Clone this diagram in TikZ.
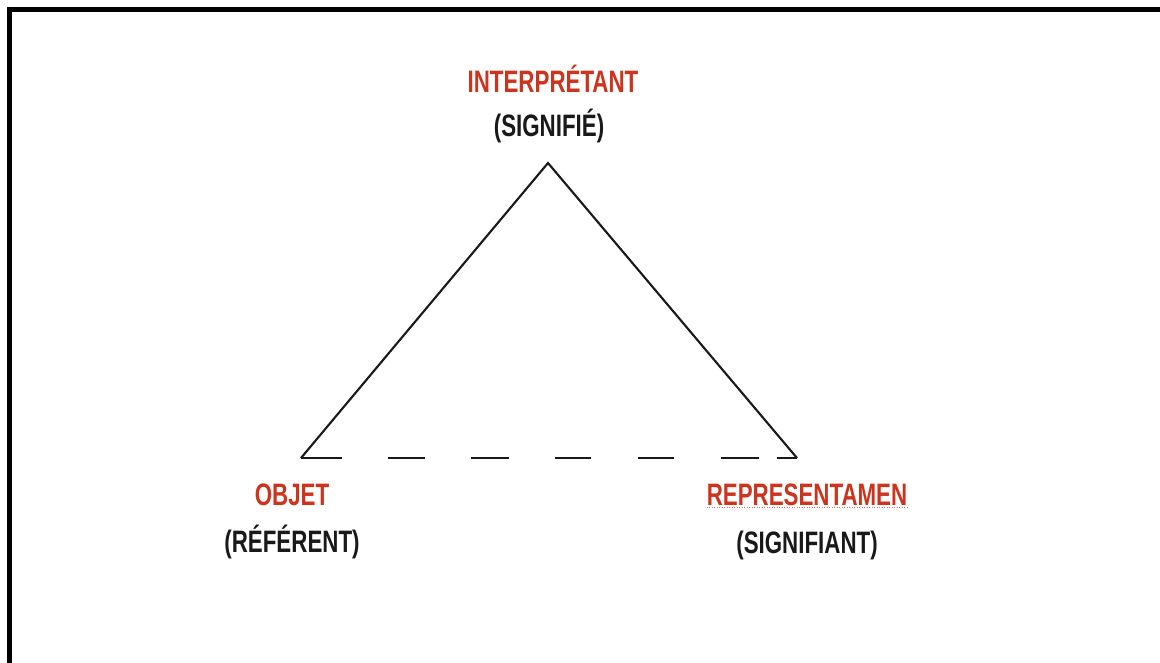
\documentclass[tikz,border=0pt]{standalone}
\usepackage{fontspec}
\setmainfont{Liberation Sans}[FakeStretch=0.72]
\definecolor{labred}{RGB}{205,52,30}
\definecolor{labblack}{RGB}{25,25,25}
\begin{document}
\begin{tikzpicture}[x=1pt,y=-1pt,
  lab/.style={anchor=base,inner sep=0pt,font=\fontsize{31}{37}\selectfont\bfseries},
  redlab/.style={lab,text=labred},
  blacklab/.style={lab,text=labblack},
  edge/.style={line width=2.1pt,draw=black!90}]
\useasboundingbox (0,0) rectangle (1160,663);
\fill[white] (0,0) rectangle (1160,663);
% frame
\draw[line width=5pt,miter limit=10] (9.8,670) -- (9.8,9.8) -- (1170,9.8);
% vertices
\coordinate (I) at (548,163);
\coordinate (O) at (301,458);
\coordinate (R) at (797,458);
\draw[edge,line join=miter] (O) -- (I) -- (R);
\draw[edge,dash pattern=on 41pt off 46pt on 37pt off 46pt on 38pt off 46pt on 36pt off 47pt on 36pt off 46.5pt on 38pt off 18.5pt on 21pt off 10pt] (O) -- (R);
% labels
\node[redlab] (interp) at (553,93) {INTERPRÉTANT};
\node[blacklab] (signifie) at (549,137) {(SIGNIFIÉ)};
\node[redlab] (objet) at (292,505) {OBJET};
\node[blacklab] (referent) at (292,552) {(RÉFÉRENT)};
\node[redlab] (repr) at (807,505) {REPRESENTAMEN};
\node[blacklab] (signifiant) at (807,553) {(SIGNIFIANT)};
\draw[labred!70,line width=1pt,dash pattern=on 1pt off 1.5pt] ([yshift=-2.5pt]repr.base west) -- ([yshift=-2.5pt]repr.base east);
\end{tikzpicture}
\end{document}
